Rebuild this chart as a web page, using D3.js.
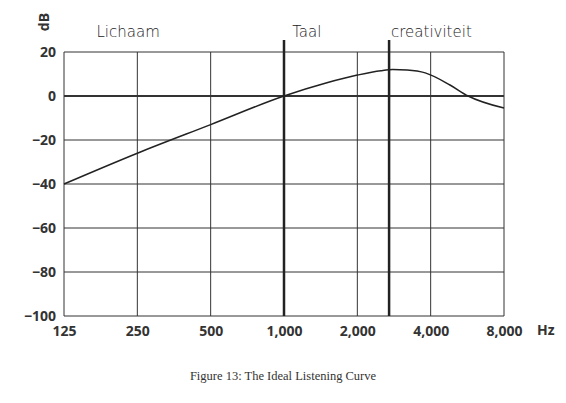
<!DOCTYPE html><html><head><meta charset="utf-8"><script src="https://cdn.jsdelivr.net/npm/d3@7"></script>
<style>body{margin:0;background:#fff}</style></head><body><svg id="c" width="566" height="403"></svg><script>
const freqTicks=[125,250,500,1000,2000,4000,8000];
const tickLabels=["125","250","500","1,000","2,000","4,000","8,000"];
const dbTicks=[20,0,-20,-40,-60,-80,-100];
const curveFreq=[125,250,500,1000,1500,2000,2500,2800,3200,3800,4800,5700,8000];
const curveDb=[-40,-26,-13,0,6,9.5,11.5,12,11.8,10.5,5,0,-5.5];
const markers=[1000,2700];
const markerLabels=[{f:170,t:"Lichaam"},{f:1080,t:"Taal"},{f:2750,t:"creativiteit"}];
const svg=d3.select("#c");
const x=d3.scaleLog().base(2).domain([125,8000]).range([64,504]);
const y=d3.scaleLinear().domain([-100,20]).range([316,52]);
const g=svg.append("g");
freqTicks.forEach(f=>g.append("line").attr("x1",x(f)).attr("x2",x(f)).attr("y1",y(20)).attr("y2",y(-100)).attr("stroke","#333").attr("stroke-width",1));
dbTicks.forEach(d=>g.append("line").attr("x1",x(125)).attr("x2",x(8000)).attr("y1",y(d)).attr("y2",y(d)).attr("stroke","#333").attr("stroke-width",d===0?2.2:1));
const font=a=>a.selectAll("text").attr("font-family","Open Sans, sans-serif").attr("font-size",14).attr("font-weight","bold").attr("fill","#333");
svg.append("g").attr("transform","translate(0,316)").call(d3.axisBottom(x).tickValues(freqTicks).tickFormat((d,i)=>tickLabels[i]).tickSize(0).tickPadding(10))
 .call(a=>{a.select(".domain").remove();font(a);});
svg.append("g").attr("transform","translate(64,0)").call(d3.axisLeft(y).tickValues(dbTicks).tickSize(0).tickPadding(8))
 .call(a=>{a.select(".domain").remove();font(a);});
svg.append("text").attr("x",537).attr("y",335).text("Hz").attr("font-family","Open Sans, sans-serif").attr("font-size",14).attr("font-weight","bold").attr("fill","#333");
svg.append("text").attr("transform","translate(49,22) rotate(-90)").attr("text-anchor","middle").text("dB").attr("font-family","Open Sans, sans-serif").attr("font-size",14).attr("font-weight","bold").attr("fill","#333");
const line=d3.line().x((d,i)=>x(curveFreq[i])).y(d=>y(d)).curve(d3.curveMonotoneX);
svg.append("path").attr("d",line(curveDb)).attr("fill","none").attr("stroke","#222").attr("stroke-width",1.5);
markers.forEach(f=>svg.append("line").attr("x1",x(f)).attr("x2",x(f)).attr("y1",40).attr("y2",y(-100)).attr("stroke","#222").attr("stroke-width",2.5));
markerLabels.forEach(m=>svg.append("text").attr("x",x(m.f)).attr("y",37).text(m.t).attr("font-family","DejaVu Sans, sans-serif").attr("font-weight","300").attr("font-size",15).attr("fill","#222"));
svg.append("text").attr("x",283).attr("y",380).attr("text-anchor","middle").text("Figure 13: The Ideal Listening Curve").attr("font-family","Liberation Serif, serif").attr("font-size",12.5).attr("fill","#333");
</script></body></html>
